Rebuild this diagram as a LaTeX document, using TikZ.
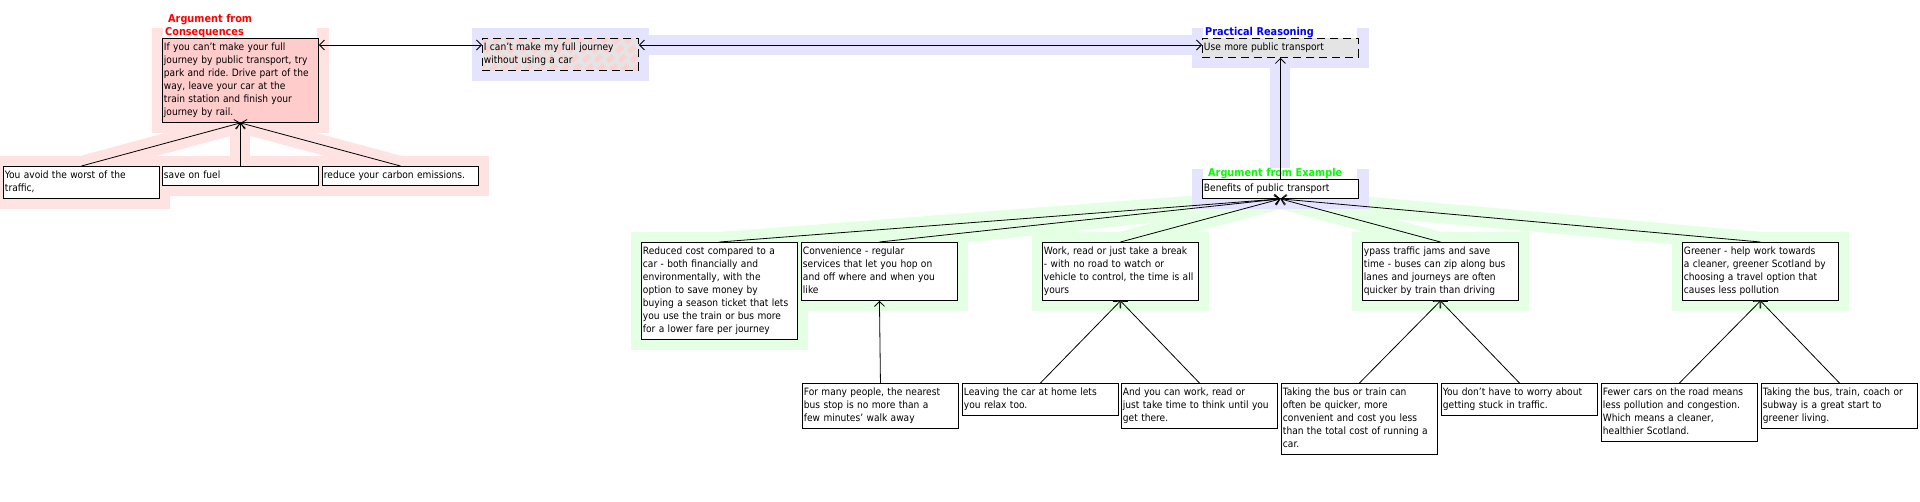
\documentclass[tikz,border=0pt]{standalone}
\usepackage{fontspec}
\setmainfont{DejaVu Sans Condensed}
\usepackage{xcolor}
\usepackage{tikz}
\usetikzlibrary{arrows.meta, backgrounds}

\definecolor{pinkhl}{RGB}{255,226,226}
\definecolor{lavhl}{RGB}{228,228,255}
\definecolor{greenhl}{RGB}{228,255,228}
\definecolor{consfill}{RGB}{255,204,204}
\definecolor{greyfill}{RGB}{228,228,228}
\definecolor{stripe}{RGB}{255,208,208}

\newcommand{\boxfont}{\fontsize{10.1}{13}\selectfont}
\newcommand{\lblfont}{\fontsize{10.8}{13}\selectfont\bfseries}
\frenchspacing

\begin{document}
\begin{tikzpicture}[x=1pt, y=-1pt, >={Straight Barb[length=5pt,width=10pt]},
    argbox/.style={draw, line width=0.9pt, fill=white, anchor=north west,
        text width=153pt, inner xsep=1.5pt, inner ysep=3pt, align=left,
        font=\boxfont, execute at begin node=\strut, execute at end node=\strut},
    dashbox/.style={argbox, dash pattern=on 8pt off 5pt},
    schemelbl/.style={anchor=south west, fill=white, text width=150pt,
        inner xsep=2pt, inner ysep=0pt, align=left, font=\lblfont},
    link/.style={line width=0.8pt},
    band/.style={line width=20pt}]
    \useasboundingbox (0,0) rectangle (1920,501);

    % Argument from Consequences
    \node[argbox, fill=consfill] (cons) at (162,38) {If you can't make your full\\journey by public transport, try\\park and ride. Drive part of the\\way, leave your car at the\\train station and finish your\\journey by rail.};
    \node[argbox] (avoid) at (3,166) {You avoid the worst of the\\traffic,};
    \node[argbox] (fuel) at (162,166) {save on fuel};
    \node[argbox] (carbon) at (322,166) {reduce your carbon emissions.};
    \node[schemelbl, text=red] (conslbl) at ([xshift=1pt]cons.north west) {\hspace*{3pt}Argument from\\Consequences};

    % Practical Reasoning
    \node[dashbox, path picture={
        \fill[greyfill] (path picture bounding box.south west) rectangle (path picture bounding box.north east);
        \foreach \k in {-40,-28,...,176}
            \draw[stripe, line width=5pt] ([xshift=\k pt]path picture bounding box.south west) -- ++(40pt,40pt);
        }] (cant) at (482,38) {I can't make my full journey\\without using a car};
    \node[dashbox, fill=greyfill] (use) at (1202,38) {Use more public transport};
    \node[schemelbl, text=blue] (praclbl) at ([xshift=1pt]use.north west) {Practical Reasoning};

    % Argument from Example
    \node[argbox] (ben) at (1202,179) {Benefits of public transport};
    \node[schemelbl, text=green] (exlbl) at ([xshift=1pt]ben.north west) {\hspace*{3pt}Argument from Example};
    \node[argbox] (cost) at (641,242) {Reduced cost compared to a\\car - both financially and\\environmentally, with the\\option to save money by\\buying a season ticket that lets\\you use the train or bus more\\for a lower fare per journey};
    \node[argbox] (conv) at (801,242) {Convenience - regular\\services that let you hop on\\and off where and when you\\like};
    \node[argbox] (work) at (1042,242) {Work, read or just take a break\\- with no road to watch or\\vehicle to control, the time is all\\yours};
    \node[argbox] (jams) at (1362,242) {ypass traffic jams and save\\time - buses can zip along bus\\lanes and journeys are often\\quicker by train than driving};
    \node[argbox] (green) at (1682,242) {Greener - help work towards\\a cleaner, greener Scotland by\\choosing a travel option that\\causes less pollution};

    % supporting reasons
    \node[argbox] (busstop) at (802,383) {For many people, the nearest\\bus stop is no more than a\\few minutes' walk away};
    \node[argbox] (relax) at (962,383) {Leaving the car at home lets\\you relax too.};
    \node[argbox] (think) at (1121,383) {And you can work, read or\\just take time to think until you\\get there.};
    \node[argbox] (quicker) at (1281,383) {Taking the bus or train can\\often be quicker, more\\convenient and cost you less\\than the total cost of running a\\car.};
    \node[argbox] (stuck) at (1441,383) {You don't have to worry about\\getting stuck in traffic.};
    \node[argbox] (fewer) at (1601,383) {Fewer cars on the road means\\less pollution and congestion.\\Which means a cleaner,\\healthier Scotland.};
    \node[argbox] (living) at (1761,383) {Taking the bus, train, coach or\\subway is a great start to\\greener living.};

    % highlights
    \begin{scope}[on background layer]
        \foreach \n in {ben,cost,conv,work,jams,green}
            \fill[greenhl] ([shift={(-10pt,10pt)}]\n.north west) rectangle ([shift={(10pt,-10pt)}]\n.south east);
        \foreach \n in {cost,conv,work,jams,green}
            \draw[greenhl, band] (\n.north) -- (ben.south);
        \foreach \n in {cant,use,ben}
            \fill[lavhl] ([shift={(-10pt,10pt)}]\n.north west) rectangle ([shift={(10pt,-10pt)}]\n.south east);
        \draw[lavhl, band] ([yshift=-7pt]cant.north east) -- ([yshift=-7pt]use.north west);
        \draw[lavhl, band] (ben.north) -- (use.south);
        \foreach \n in {cons,avoid,fuel,carbon}
            \fill[pinkhl] ([shift={(-10pt,10pt)}]\n.north west) rectangle ([shift={(10pt,-10pt)}]\n.south east);
        \foreach \n in {avoid,fuel,carbon}
            \draw[pinkhl, band] (\n.north) -- (cons.south);
    \end{scope}

    % connectors
    \foreach \n in {avoid,fuel,carbon}
        \draw[->, link] (\n.north) -- (cons.south);
    \draw[<->, link] ([yshift=-7pt]cons.north east) -- ([yshift=-7pt]cant.north west);
    \draw[<->, link] ([yshift=-7pt]cant.north east) -- ([yshift=-7pt]use.north west);
    \draw[->, link] (ben.north) -- (use.south);
    \foreach \n in {cost,conv,work,jams,green}
        \draw[->, link] (\n.north) -- (ben.south);
    \draw[->, link] (busstop.north) -- (conv.south);
    \draw[->, link] (relax.north) -- (work.south);
    \draw[->, link] (think.north) -- (work.south);
    \draw[->, link] (quicker.north) -- (jams.south);
    \draw[->, link] (stuck.north) -- (jams.south);
    \draw[->, link] (fewer.north) -- (green.south);
    \draw[->, link] (living.north) -- (green.south);
\end{tikzpicture}
\end{document}
